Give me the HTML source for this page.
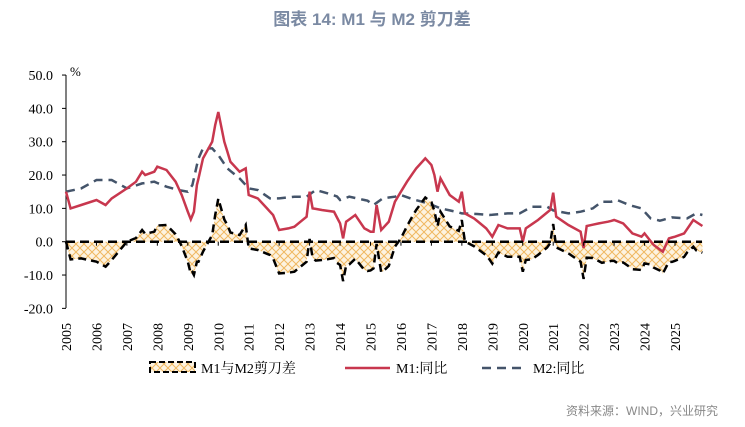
<!DOCTYPE html>
<html><head><meta charset="utf-8"><style>
body{margin:0;background:#fff;width:745px;height:427px;overflow:hidden}
svg{display:block}
</style></head><body>
<svg id="c" width="745" height="427" xmlns="http://www.w3.org/2000/svg" font-family="'Liberation Serif','Noto Serif CJK SC',serif">
<defs>
<pattern id="h" width="8" height="8" patternUnits="userSpaceOnUse">
<rect width="8" height="8" fill="#fdf3e0"/>
<path d="M0 0L8 8M8 0L0 8" stroke="#f0b860" stroke-width="1"/>
</pattern>
</defs>
<text x="372" y="25" text-anchor="middle" font-family="'Liberation Sans','Noto Sans CJK SC',sans-serif" font-size="17" font-weight="bold" fill="#7b8aa3">图表 14: M1 与 M2 剪刀差</text>
<g id="g"></g>
<text x="566" y="415" font-family="'Liberation Sans','Noto Sans CJK SC',sans-serif" font-size="12" fill="#888">资料来源：WIND，兴业研究</text>
</svg>
<script>
var M1=[[2005,15],[2005.15,10],[2005.5,11],[2006,12.5],[2006.3,11],[2006.5,13],[2007,16],[2007.3,18],[2007.5,21],[2007.6,20],[2007.9,21],[2008,22.5],[2008.3,21.5],[2008.6,18],[2008.8,14],[2009,9],[2009.1,6.7],[2009.2,9],[2009.3,17],[2009.5,25],[2009.8,30],[2009.9,35],[2010,38.9],[2010.2,30],[2010.4,24],[2010.7,21],[2010.9,22],[2011,14],[2011.3,13],[2011.6,10],[2011.8,8],[2012,3.5],[2012.3,4],[2012.5,4.5],[2012.7,6],[2012.9,7.5],[2013,15],[2013.1,10],[2013.4,9.5],[2013.8,9],[2014,5.5],[2014.1,1],[2014.2,6],[2014.5,8],[2014.8,4],[2015,3],[2015.1,3],[2015.2,11],[2015.35,3.5],[2015.6,6],[2015.8,12],[2016,15],[2016.2,18],[2016.5,22],[2016.8,25],[2017,23],[2017.1,20],[2017.2,15],[2017.3,19],[2017.6,14],[2017.9,12],[2018,15],[2018.1,8.5],[2018.4,7],[2018.8,4],[2019,1.5],[2019.2,5],[2019.5,4],[2019.9,4],[2020,0],[2020.1,4],[2020.5,6.5],[2020.9,9.5],[2021,14.7],[2021.1,7.5],[2021.5,5],[2021.9,3],[2022,-1.9],[2022.1,4.7],[2022.5,5.5],[2022.8,6],[2023,6.5],[2023.3,5.5],[2023.6,2.5],[2023.9,1.5],[2024,2.5],[2024.3,-1],[2024.6,-3],[2024.8,1],[2025,1.5],[2025.3,2.5],[2025.6,6.5],[2025.9,4.7]];
var M2=[[2005,15],[2005.5,16],[2006,18.5],[2006.5,18.5],[2007,16],[2007.5,17.5],[2007.9,18],[2008.3,16.5],[2008.7,15.5],[2009,15],[2009.15,17],[2009.35,25],[2009.5,28],[2009.8,28],[2010,26],[2010.3,22],[2010.7,19],[2011,16],[2011.3,15.5],[2011.7,13],[2012,13],[2012.5,13.5],[2012.9,13.5],[2013.2,15.5],[2013.6,14.5],[2013.9,13.6],[2014,12.5],[2014.3,13.5],[2014.9,12.3],[2015.1,11],[2015.4,13],[2015.8,13.5],[2016,14],[2016.4,12.7],[2016.9,11.5],[2017.3,10],[2017.8,9],[2018,8.5],[2018.5,8.3],[2018.9,8],[2019.5,8.5],[2019.9,8.5],[2020.3,10.5],[2020.8,10.5],[2021,9.4],[2021.5,8.5],[2021.9,9],[2022.3,10],[2022.6,12],[2022.9,12],[2023.1,12.5],[2023.5,11],[2023.9,10],[2024.2,7],[2024.5,6.3],[2024.9,7.3],[2025.4,7],[2025.7,8.5],[2025.9,8]];
function X(t){return 66+(t-2005)*30.45}
function Y(v){return 241.7-3.333*v}
function interp(a,t){for(var i=1;i<a.length;i++){if(t<=a[i][0]){var p=a[i-1],q=a[i];return p[1]+(q[1]-p[1])*(t-p[0])/(q[0]-p[0]);}}return a[a.length-1][1];}
var ts=[];M1.forEach(function(p){ts.push(p[0])});M2.forEach(function(p){ts.push(p[0])});
ts=ts.filter(function(v,i,s){return s.indexOf(v)===i}).sort(function(a,b){return a-b});
function pts(f){return ts.map(function(t){return X(t).toFixed(1)+','+Y(f(t)).toFixed(1)}).join(' ')}
var d=function(t){return interp(M1,t)-interp(M2,t)};
var s='';
s+='<line x1="66" y1="75" x2="66" y2="308" stroke="#000"/>';
for(var v=50;v>=-20;v-=10){var y=Y(v);s+='<line x1="62" y1="'+y+'" x2="66" y2="'+y+'" stroke="#000"/><text x="53" y="'+(y+5)+'" text-anchor="end" font-size="14">'+v.toFixed(1)+'</text>';}
s+='<text x="70" y="76" font-size="13">%</text>';
var area='M'+X(2005)+','+Y(0)+' L'+pts(d).split(' ').join(' L')+' L'+X(2025.9)+','+Y(0)+' Z';
s+='<path d="'+area+'" fill="url(#h)"/>';
s+='<polyline points="'+pts(function(t){return interp(M2,t)})+'" fill="none" stroke="#44546a" stroke-width="2.5" stroke-dasharray="9,6"/>';
s+='<polyline points="'+pts(function(t){return interp(M1,t)})+'" fill="none" stroke="#c8374e" stroke-width="2.5"/>';
s+='<line x1="66" y1="'+Y(0)+'" x2="702" y2="'+Y(0)+'" stroke="#000" stroke-width="2.5" stroke-dasharray="9,5"/>';
s+='<polyline points="'+pts(d)+'" fill="none" stroke="#000" stroke-width="2.5" stroke-dasharray="8,5"/>';
for(var yr=2005;yr<=2025;yr++){var x=X(yr);s+='<line x1="'+x+'" y1="'+Y(0)+'" x2="'+x+'" y2="'+(Y(0)+4)+'" stroke="#000"/><text transform="translate('+(x+5)+',351) rotate(-90)" font-size="14">'+yr+'</text>';}
s+='<rect x="150" y="362" width="45" height="10" fill="url(#h)" stroke="#000" stroke-width="2" stroke-dasharray="6,3"/><text x="201" y="373" font-size="14">M1与M2剪刀差</text>';
s+='<line x1="345" y1="368" x2="390" y2="368" stroke="#c8374e" stroke-width="2.5"/><text x="396" y="373" font-size="14">M1:同比</text>';
s+='<line x1="482" y1="368" x2="527" y2="368" stroke="#44546a" stroke-width="2.5" stroke-dasharray="9,6"/><text x="533" y="373" font-size="14">M2:同比</text>';
document.getElementById('g').innerHTML=s;
</script>
</body></html>
